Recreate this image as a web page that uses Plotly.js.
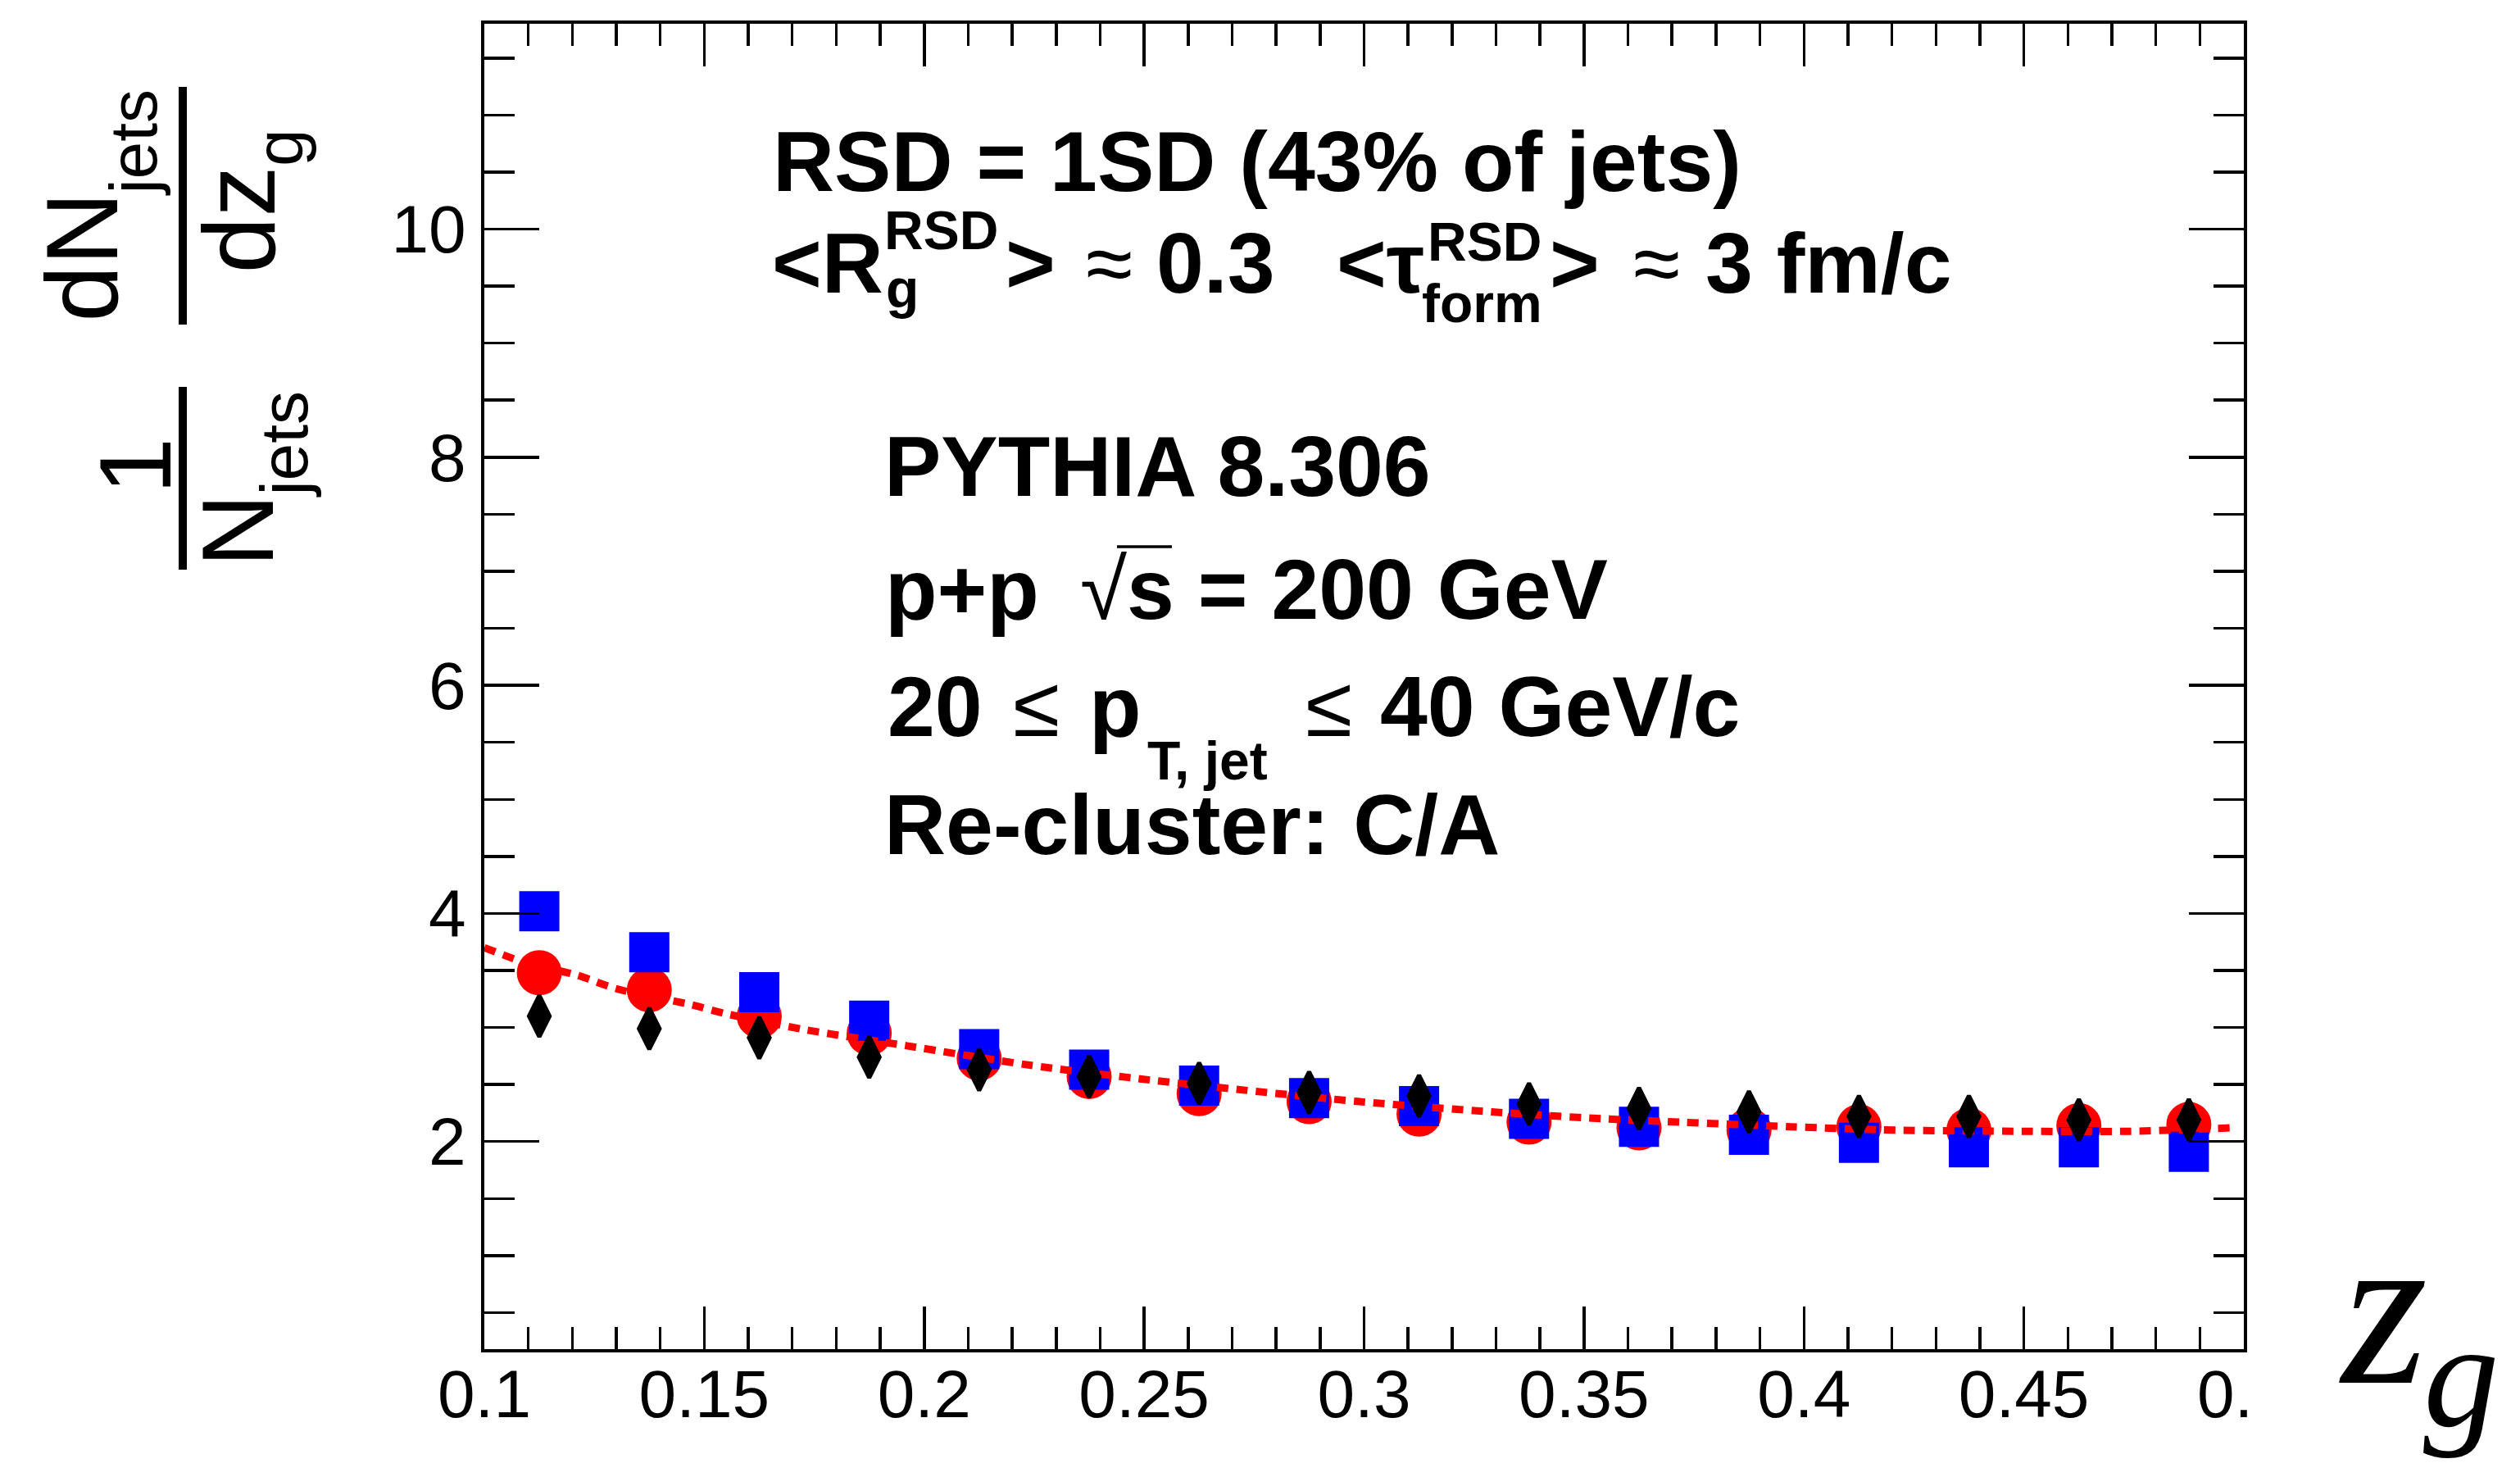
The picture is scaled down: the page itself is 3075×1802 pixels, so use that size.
<!DOCTYPE html>
<html><head><meta charset="utf-8">
<script src="https://cdn.plot.ly/plotly-3.0.1.min.js"></script>
<style>html,body{margin:0;padding:0;background:#fff;}#chart{width:3075px;height:1802px;}</style>
</head><body><div id="chart"></div>
<script>
// ---- data ----
const zgCenters = [0.1125, 0.1375, 0.1625, 0.1875, 0.2125, 0.2375, 0.2625, 0.2875, 0.3125, 0.3375, 0.3625, 0.3875, 0.4125, 0.4375, 0.4625, 0.4875];
const blueSquares = [4.02, 3.66, 3.31, 3.06, 2.81, 2.63, 2.49, 2.38, 2.31, 2.20, 2.13, 2.06, 1.99, 1.95, 1.95, 1.91];
const redCircles  = [3.48, 3.33, 3.10, 2.95, 2.73, 2.57, 2.42, 2.35, 2.24, 2.17, 2.12, 2.10, 2.13, 2.10, 2.14, 2.15];
const blackDiamonds = [3.10, 2.99, 2.91, 2.74, 2.63, 2.57, 2.51, 2.43, 2.40, 2.33, 2.29, 2.26, 2.22, 2.22, 2.19, 2.19];
const fitX = [0.100, 0.110, 0.121, 0.130, 0.147, 0.155, 0.173, 0.196, 0.224, 0.249, 0.273, 0.299, 0.329, 0.354, 0.372, 0.397, 0.421, 0.450, 0.474, 0.497];
const fitY = [3.70, 3.56, 3.46, 3.34, 3.20, 3.12, 2.98, 2.84, 2.67, 2.55, 2.45, 2.35, 2.26, 2.20, 2.17, 2.13, 2.10, 2.09, 2.09, 2.12];
const xTickVals = [0.1, 0.15, 0.2, 0.25, 0.3, 0.35, 0.4, 0.45, 0.5];
const xTickText = ['0.1', '0.15', '0.2', '0.25', '0.3', '0.35', '0.4', '0.45', '0.<span style="color:rgba(0,0,0,0)">5</span>'];
const yTickVals = [2, 4, 6, 8, 10];
const yTickText = ['2', '4', '6', '8', '10'];

// ---- layout helpers (pixel -> paper) ----
const W = 3075, H = 1802;
const L = 591, R = 2738, T = 29, B = 1646;
const px = v => (v - L) / (R - L);
const py = v => (B - v) / (B - T);
const SANS = 'Liberation Sans, Arial, Helvetica, sans-serif';
function txt(text, x, y, size, o) {
  const a = {xref: 'paper', yref: 'paper', x: px(x), y: py(y), text: text, showarrow: false,
    xanchor: 'left', yanchor: 'middle', borderpad: 0, borderwidth: 0,
    font: {family: SANS, size: size, color: '#000'}};
  return Object.assign(a, o || {});
}
const F = 104, S = 66;
const annotations = [
  // y title (rotated fractions)
  txt('dN', 99.7, 313, 124, {textangle: -90, xanchor: 'center'}),
  txt('jets', 161.6, 174, 82, {textangle: -90, xanchor: 'center'}),
  txt('dz', 292, 268.5, 124, {textangle: -90, xanchor: 'center'}),
  txt('g', 340.6, 180.5, 82, {textangle: -90, xanchor: 'center'}),
  txt('1', 165, 569, 124, {textangle: -90, xanchor: 'center'}),
  txt('N', 290, 647, 124, {textangle: -90, xanchor: 'center'}),
  txt('jets', 345.6, 542, 82, {textangle: -90, xanchor: 'center'}),
  // x title
  txt('<i>z</i>', 2908, 1595, 270, {xanchor: 'center', font: {family: 'Liberation Serif, Times New Roman, serif', size: 270, color: '#000'}}),
  txt('<i>g</i>', 3003, 1678, 185, {xanchor: 'center', font: {family: 'Liberation Serif, Times New Roman, serif', size: 185, color: '#000'}}),
  // line 1
  txt('<b>RSD = 1SD (43% of jets)</b>', 943, 197, F),
  // line 2
  txt('<b>&lt;R</b>', 942, 320.7, F),
  txt('<b>RSD</b>', 1079, 281, S),
  txt('<b>g</b>', 1081, 352.1, S),
  txt('<b>&gt;</b>', 1227, 320.7, F),
  txt('≈', 1325, 320.7, F),
  txt('<b>0.3</b>', 1411, 320.7, F),
  txt('<b>&lt;τ</b>', 1631, 320.7, F),
  txt('<b>RSD</b>', 1742, 294.9, S),
  txt('<b>form</b>', 1735, 370.1, S),
  txt('<b>&gt;</b>', 1891, 320.7, F),
  txt('≈', 1993, 320.7, F),
  txt('<b>3 fm/c</b>', 2081, 320.7, F),
  // PYTHIA block
  txt('<b>PYTHIA 8.306</b>', 1079, 569, F),
  txt('<b>p+p</b>', 1080, 718.5, F),
  txt('√<b>s = 200 GeV</b>', 1318, 718.5, F),
  txt('<b>20</b>', 1083, 862, F),
  txt('≤', 1236, 862, F),
  txt('<b>p</b>', 1329, 862, F),
  txt('<b>T, jet</b>', 1400, 928, S),
  txt('≤', 1593, 862, F),
  txt('<b>40 GeV/c</b>', 1684, 862, F),
  txt('<b>Re-cluster: C/A</b>', 1079, 1005.5, F)
];
const shapes = [
  {type: 'line', xref: 'paper', yref: 'paper', x0: px(223), x1: px(223), y0: py(106), y1: py(396), line: {color: '#000', width: 10}},
  {type: 'line', xref: 'paper', yref: 'paper', x0: px(223), x1: px(223), y0: py(472), y1: py(695), line: {color: '#000', width: 10}},
  {type: 'line', xref: 'paper', yref: 'paper', x0: px(1363), x1: px(1430), y0: py(667), y1: py(667), line: {color: '#000', width: 3.5}}
];

const traces = [
  {x: zgCenters, y: redCircles, type: 'scatter', mode: 'markers', name: 'red',
   marker: {symbol: 'circle', size: 55, color: 'rgb(255,0,0)', line: {width: 0}}},
  {x: zgCenters, y: blueSquares, type: 'scatter', mode: 'markers', name: 'blue',
   marker: {symbol: 'square', size: 49, color: 'rgb(0,0,255)', line: {width: 0}}},
  {x: fitX, y: fitY, type: 'scatter', mode: 'lines', name: 'fit',
   line: {color: 'rgb(255,0,0)', width: 9, dash: '14px,10px', shape: 'spline', smoothing: 0.8}},
  {x: zgCenters, y: blackDiamonds, type: 'scatter', mode: 'markers', name: 'black',
   marker: {symbol: 'diamond-tall', size: 36, color: '#000', line: {width: 5, color: '#000'}}}
];

const axisCommon = {
  ticks: 'inside', tickcolor: '#000', tickwidth: 3.5,
  showline: true, linecolor: '#000', linewidth: 4, mirror: 'allticks',
  showgrid: false, zeroline: false, fixedrange: true,
  tickfont: {family: SANS, size: 82, color: '#000'}
};
const layout = {
  width: W, height: H, showlegend: false,
  paper_bgcolor: '#fff', plot_bgcolor: '#fff',
  margin: {l: L, r: W - R, t: T, b: H - B, pad: 0},
  xaxis: Object.assign({}, axisCommon, {
    range: [0.1, 0.5], tickmode: 'array', tickvals: xTickVals, ticktext: xTickText,
    ticklen: 52, ticklabelstandoff: -19,
    minor: {tickmode: 'linear', tick0: 0.1, dtick: 0.01, ticks: 'inside', ticklen: 27, tickwidth: 3.5, tickcolor: '#000', showgrid: false}
  }),
  yaxis: Object.assign({}, axisCommon, {
    range: [0.18, 11.8], tickmode: 'array', tickvals: yTickVals, ticktext: yTickText,
    ticklen: 67, ticklabelstandoff: 2,
    minor: {tickmode: 'linear', tick0: 0, dtick: 0.5, ticks: 'inside', ticklen: 37, tickwidth: 3.5, tickcolor: '#000', showgrid: false}
  }),
  annotations: annotations,
  shapes: shapes
};
Plotly.newPlot('chart', traces, layout, {staticPlot: true, displayModeBar: false});
</script>
</body></html>
